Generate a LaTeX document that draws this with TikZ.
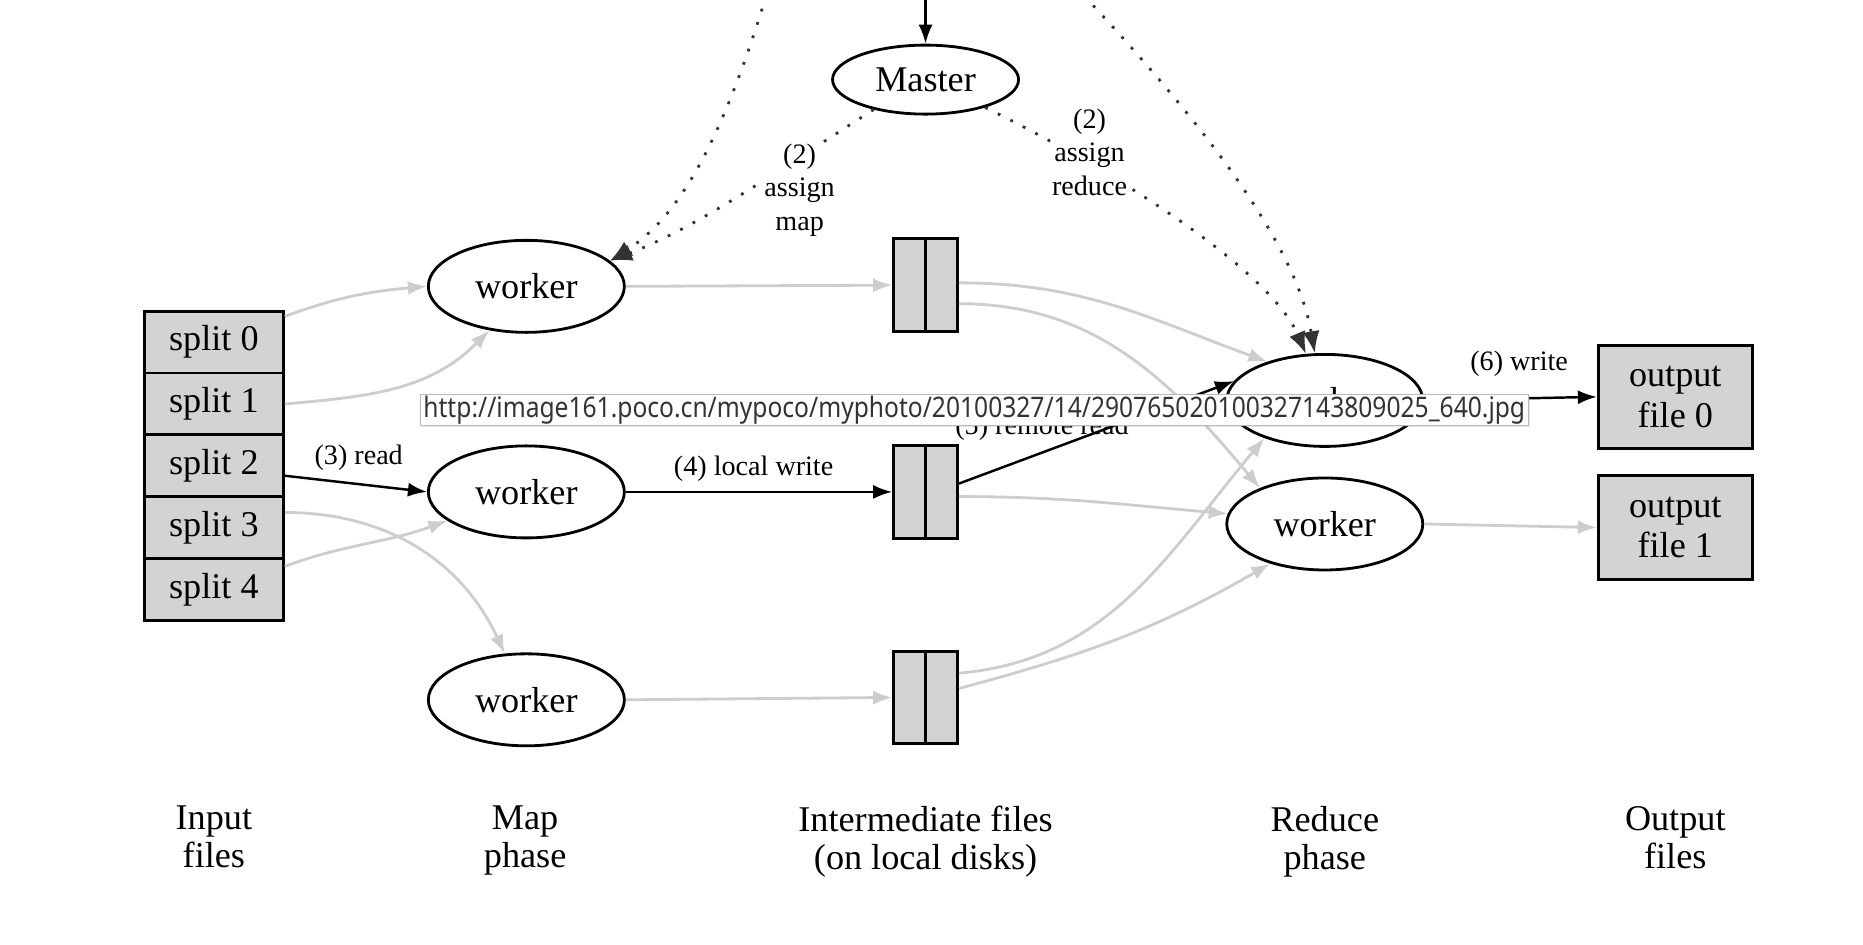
\documentclass[tikz,border=0pt]{standalone}
\usepackage{fontspec}
\setmainfont{Liberation Serif}
\newfontfamily\tipfont{Noto Sans}
\usetikzlibrary{arrows.meta,shapes.geometric,shadows,positioning}

\definecolor{boxgray}{RGB}{211,211,211}
\definecolor{edgegray}{RGB}{205,205,205}

\tikzset{
  worker/.style={ellipse,draw,line width=0.8pt,inner sep=0pt,
    minimum width=19.6mm,minimum height=9.2mm},
  filebox/.style={rectangle,draw,fill=boxgray,line width=0.8pt,inner sep=0pt},
  feed/.style={draw=edgegray,line width=0.8pt,
    -{Latex[length=1.9mm,width=1.4mm]}},
  flow/.style={draw=black,line width=0.7pt,
    -{Latex[length=1.9mm,width=1.4mm]}},
  control/.style={draw=black!80,line width=0.8pt,dash pattern=on 0.8pt off 3.2pt,
    -{Latex[length=2.2mm,width=1.7mm]}},
  steplabel/.style={font=\fontsize{8}{9.5}\selectfont,inner sep=1pt,align=center},
  phase/.style={align=center,anchor=north,font=\fontsize{10.3}{10.8}\selectfont}
}

\begin{document}
\begin{tikzpicture}[x=0.1188mm,y=-0.1188mm,font=\fontsize{10.3}{11.5}\selectfont,>=Latex]
  \useasboundingbox (0,0) rectangle (1568,795);

  % Master, fed from above the frame.
  \node[worker,minimum width=18.6mm,minimum height=6.9mm] (master) at (779,67) {Master};
  \coordinate (forkL) at (645,-4);
  \coordinate (forkM) at (779,-4);
  \coordinate (forkR) at (912,-4);
  \draw[flow] (forkM) -- (master.north);

  % Input splits.
  \foreach \i/\yy in {0/288,1/340,2/392,3/444,4/496}
    {\node[filebox,minimum width=13.9mm,minimum height=6.18mm] (split\i) at (180,\yy) {split \i};}

  % Map workers.
  \node[worker] (mapA) at (443,241) {worker};
  \node[worker] (mapB) at (443,414) {worker};
  \node[worker] (mapC) at (443,589) {worker};

  % Intermediate files, each split in two halves.
  \foreach \n/\yy in {A/240,B/414,C/587}
    {\node[filebox,minimum width=6.4mm,minimum height=9.27mm] (mid\n) at (779,\yy) {};
     \draw[line width=0.8pt] (mid\n.north) -- (mid\n.south);}

  % Reduce workers.
  \node[worker] (redA) at (1115,337) {worker};
  \node[worker] (redB) at (1115,441) {worker};

  % Output files.
  \node[filebox,align=center,minimum width=15.4mm,minimum height=10.3mm] (out0) at (1410,334) {output\\file 0};
  \node[filebox,align=center,minimum width=15.4mm,minimum height=10.4mm] (out1) at (1410,444) {output\\file 1};

  % Splits to map workers.
  \draw[feed] (split0.20) to[out=20,in=185] (mapA.west);
  \draw[feed] (split1.east) to[out=5,in=225] (mapA.-130);
  \draw[flow] (split2.-8) -- node[steplabel,above=2.5pt,pos=0.52] (lblRead) {(3) read} (mapB.west);
  \draw[feed] (split3.12) to[out=0,in=115] (mapC.115);
  \draw[feed] (split4.18) to[out=20,in=200] (mapB.200);

  % Map workers to local files.
  \draw[feed] (mapA.east) -- (midA.west);
  \draw[flow] (mapB.east) -- node[steplabel,above=1.5pt,pos=0.48] (lblLocal) {(4) local write} (midB.west);
  \draw[feed] (mapC.east) -- (midC.west);

  % Local files to reduce workers.
  \draw[feed] (midA.4) to[out=0,in=160] (redA.146);
  \draw[feed] (midA.-29) to[out=0,in=130] (redB.151);
  \draw[flow] (midB.14) -- (redA.168);
  \node[steplabel] (lblRemote) at (877,360) {(5) remote read};
  \draw[feed] (midB.-8) to[out=0,in=175] (redB.174);
  \draw[feed] (midC.36) to[out=5,in=230] (redA.212);
  \draw[feed] (midC.15) to[out=15,in=210] (redB.216);

  % Reduce workers to output files.
  \draw[flow] (redA.east) -- node[steplabel,above=5pt,pos=0.55] (lblWrite) {(6) write} (out0.west);
  \draw[feed] (redB.east) -- (out1.west);

  % Assignment by the master (dotted).
  \draw[control] (forkL) .. controls (610,110) and (575,180) .. (mapA.17);
  \draw[control] (master.-150) .. controls (660,140) and (590,190) .. (mapA.17);
  \draw[control] (master.-25) .. controls (950,150) and (1070,230) .. (redA.112);
  \draw[control] (forkR) .. controls (1000,90) and (1090,200) .. (redA.102);
  \node[steplabel,fill=white,inner sep=0pt] (lblMap) at (673,160) {(2)\\assign\\map};
  \node[steplabel,fill=white,inner sep=0pt] (lblReduce) at (917,128) {(2)\\assign\\reduce};

  % Phase captions.
  \node[phase] (capIn) at (180,668) {Input\\files};
  \node[phase] (capMap) at (442,668) {Map\\phase};
  \node[phase] (capMid) at (779,668) {Intermediate files\\(on local disks)};
  \node[phase] (capRed) at (1115,668) {Reduce\\phase};
  \node[phase] (capOut) at (1410,668) {Output\\files};

  % Browser tooltip lying over the figure.
  \node[draw=gray!55,fill=white,line width=0.4pt,minimum width=110.8mm,minimum height=3.1mm,
    inner sep=0pt,text=black!80,font=\tipfont\fontsize{7}{8}\selectfont,
    drop shadow={opacity=0.2,shadow xshift=0.4pt,shadow yshift=-0.5pt}] (tip) at (820,345)
    {\scalebox{1}[1.15]{http://image161.poco.cn/mypoco/myphoto/20100327/14/290765020100327143809025\_640.jpg}};
\end{tikzpicture}
\end{document}
